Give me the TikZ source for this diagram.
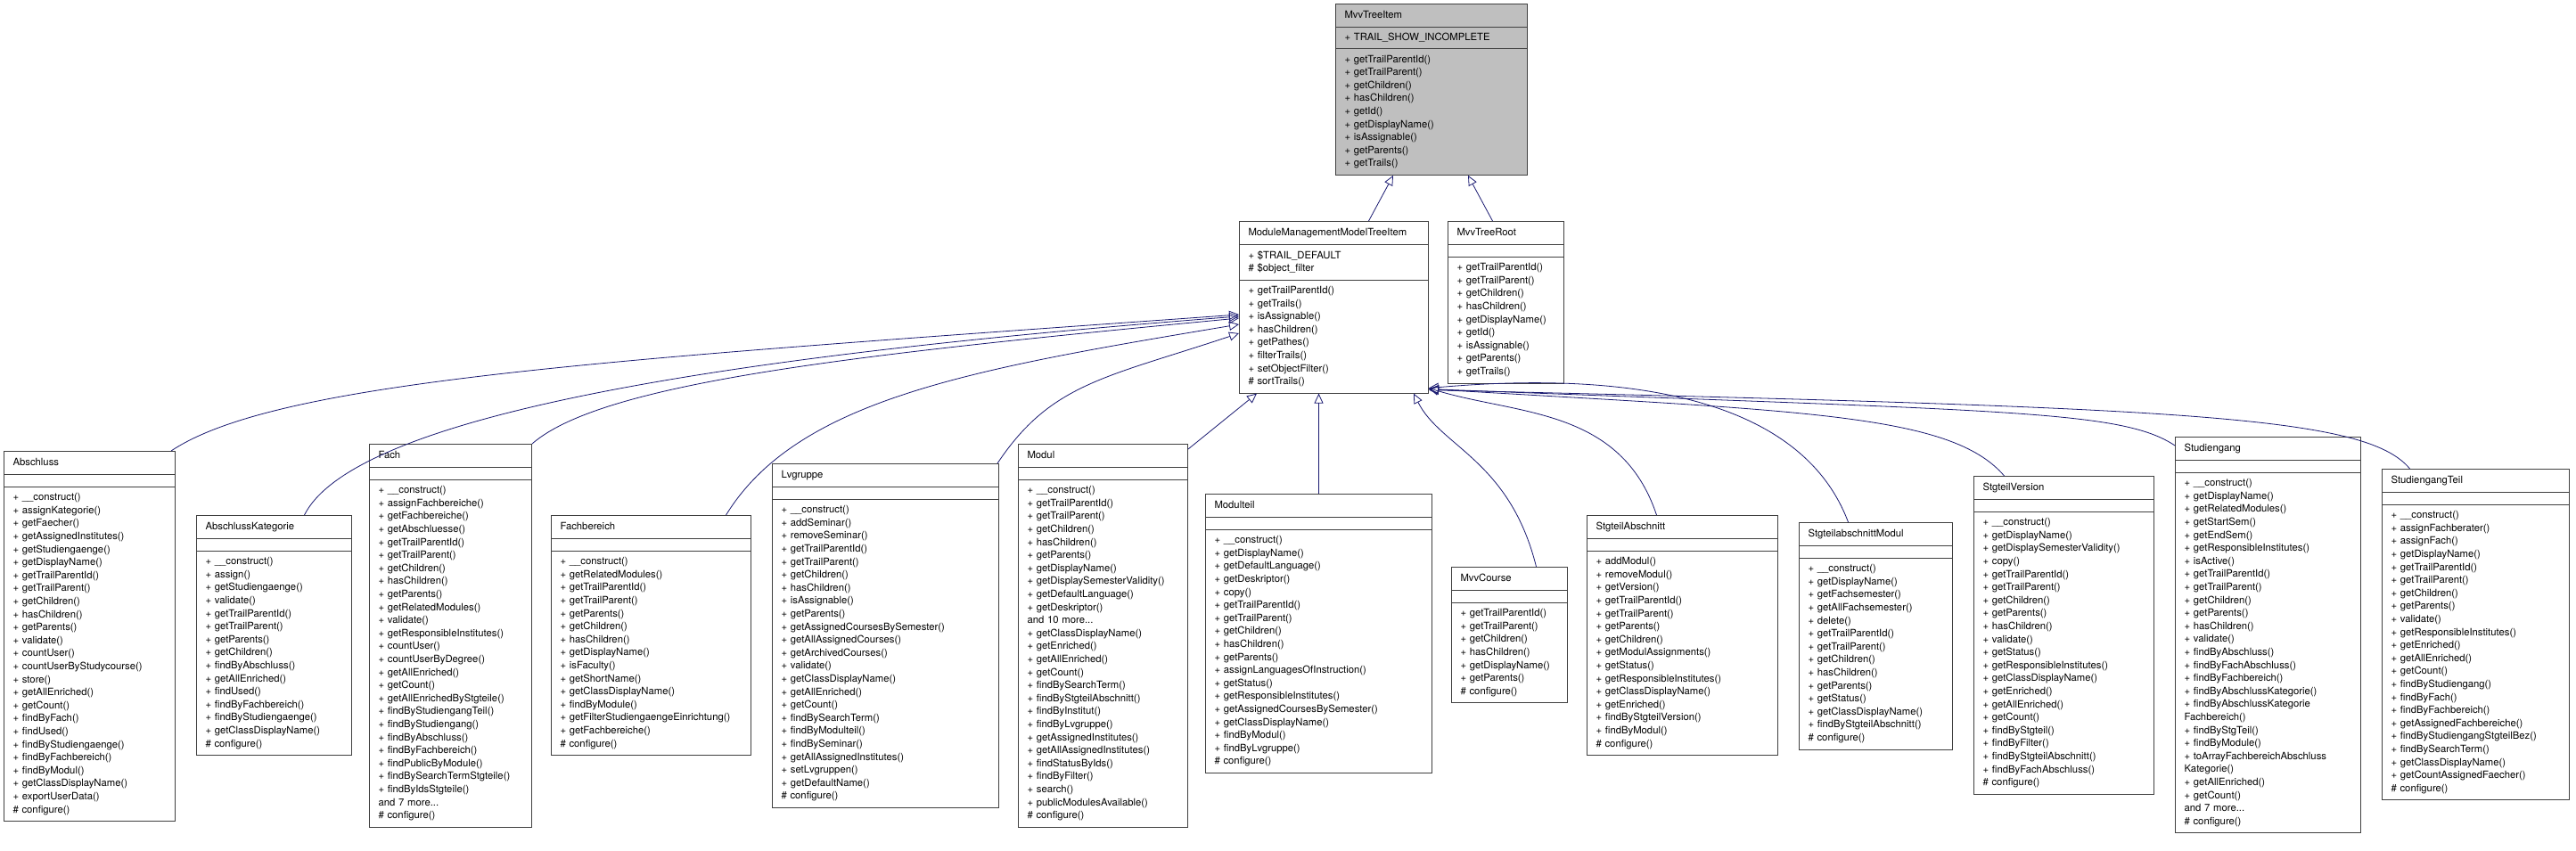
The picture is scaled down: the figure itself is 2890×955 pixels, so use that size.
\documentclass[tikz,border=0pt]{standalone}
\usepackage{fontspec}
\setmainfont{TeX Gyre Heros}
\usetikzlibrary{shapes.multipart, arrows.meta, calc, positioning}
\definecolor{edgeblue}{HTML}{191970}
\definecolor{boxgray}{HTML}{404040}
\definecolor{basegray}{HTML}{BFBFBF}
\newcommand{\hd}{\rule{0pt}{9pt}\rule[-3pt]{0pt}{3pt}}
\newcommand{\us}{\_}

\begin{document}
\begin{tikzpicture}[x=1pt, y=1pt,
	cls/.style={draw=boxgray, line width=1pt, fill=white, rectangle split, rectangle split parts=3,
		rectangle split empty part height=9pt, rectangle split empty part depth=3pt,
		text width=#1-20pt, inner xsep=10pt, inner ysep=6.5pt, anchor=north west, align=left,
		font=\fontsize{11.3}{14.6}\selectfont},
	inh/.style={{Triangle[open, length=11pt, width=10pt]}-, draw=edgeblue, line width=0.8pt}]
	\useasboundingbox (0,0) rectangle (2890,-955);
	% base classes
	\node[cls=215pt, fill=basegray] at (1498,-4) (mvvtreeitem) {\centering\hd MvvTreeItem
		\nodepart{two}+ TRAIL\us SHOW\us INCOMPLETE
		\nodepart{three}+ getTrailParentId()\\+ getTrailParent()\\+ getChildren()\\+ hasChildren()\\+ getId()\\+ getDisplayName()\\+ isAssignable()\\+ getParents()\\+ getTrails()};
	\node[cls=212pt] at (1390,-248) (mmmti) {\centering\hd ModuleManagementModelTreeItem
		\nodepart{two}+ \$TRAIL\us DEFAULT\\\# \$object\us filter
		\nodepart{three}+ getTrailParentId()\\+ getTrails()\\+ isAssignable()\\+ hasChildren()\\+ getPathes()\\+ filterTrails()\\+ setObjectFilter()\\\# sortTrails()};
	\node[cls=130pt] at (1624,-248) (mvvtreeroot) {\centering\hd MvvTreeRoot
		\nodepart{two}
		\nodepart{three}+ getTrailParentId()\\+ getTrailParent()\\+ getChildren()\\+ hasChildren()\\+ getDisplayName()\\+ getId()\\+ isAssignable()\\+ getParents()\\+ getTrails()};
	% derived classes
	\node[cls=192pt] at (4,-506) (abschluss) {\centering\hd Abschluss
		\nodepart{two}
		\nodepart{three}+ \us\us construct()\\+ assignKategorie()\\+ getFaecher()\\+ getAssignedInstitutes()\\+ getStudiengaenge()\\+ getDisplayName()\\+ getTrailParentId()\\+ getTrailParent()\\+ getChildren()\\+ hasChildren()\\+ getParents()\\+ validate()\\+ countUser()\\+ countUserByStudycourse()\\+ store()\\+ getAllEnriched()\\+ getCount()\\+ findByFach()\\+ findUsed()\\+ findByStudiengaenge()\\+ findByFachbereich()\\+ findByModul()\\+ getClassDisplayName()\\+ exportUserData()\\\# configure()};
	\node[cls=174pt] at (220,-578) (abschlusskat) {\centering\hd AbschlussKategorie
		\nodepart{two}
		\nodepart{three}+ \us\us construct()\\+ assign()\\+ getStudiengaenge()\\+ validate()\\+ getTrailParentId()\\+ getTrailParent()\\+ getParents()\\+ getChildren()\\+ findByAbschluss()\\+ getAllEnriched()\\+ findUsed()\\+ findByFachbereich()\\+ findByStudiengaenge()\\+ getClassDisplayName()\\\# configure()};
	\node[cls=182pt] at (414,-498) (fach) {\centering\hd Fach
		\nodepart{two}
		\nodepart{three}+ \us\us construct()\\+ assignFachbereiche()\\+ getFachbereiche()\\+ getAbschluesse()\\+ getTrailParentId()\\+ getTrailParent()\\+ getChildren()\\+ hasChildren()\\+ getParents()\\+ getRelatedModules()\\+ validate()\\+ getResponsibleInstitutes()\\+ countUser()\\+ countUserByDegree()\\+ getAllEnriched()\\+ getCount()\\+ getAllEnrichedByStgteile()\\+ findByStudiengangTeil()\\+ findByStudiengang()\\+ findByAbschluss()\\+ findByFachbereich()\\+ findPublicByModule()\\+ findBySearchTermStgteile()\\+ findByIdsStgteile()\\and 7 more...\\\# configure()};
	\node[cls=224pt] at (618,-578) (fachbereich) {\centering\hd Fachbereich
		\nodepart{two}
		\nodepart{three}+ \us\us construct()\\+ getRelatedModules()\\+ getTrailParentId()\\+ getTrailParent()\\+ getParents()\\+ getChildren()\\+ hasChildren()\\+ getDisplayName()\\+ isFaculty()\\+ getShortName()\\+ getClassDisplayName()\\+ findByModule()\\+ getFilterStudiengaengeEinrichtung()\\+ getFachbereiche()\\\# configure()};
	\node[cls=254pt] at (866,-520) (lvgruppe) {\centering\hd Lvgruppe
		\nodepart{two}
		\nodepart{three}+ \us\us construct()\\+ addSeminar()\\+ removeSeminar()\\+ getTrailParentId()\\+ getTrailParent()\\+ getChildren()\\+ hasChildren()\\+ isAssignable()\\+ getParents()\\+ getAssignedCoursesBySemester()\\+ getAllAssignedCourses()\\+ getArchivedCourses()\\+ validate()\\+ getClassDisplayName()\\+ getAllEnriched()\\+ getCount()\\+ findBySearchTerm()\\+ findByModulteil()\\+ findBySeminar()\\+ getAllAssignedInstitutes()\\+ setLvgruppen()\\+ getDefaultName()\\\# configure()};
	\node[cls=190pt] at (1142,-498) (modul) {\centering\hd Modul
		\nodepart{two}
		\nodepart{three}+ \us\us construct()\\+ getTrailParentId()\\+ getTrailParent()\\+ getChildren()\\+ hasChildren()\\+ getParents()\\+ getDisplayName()\\+ getDisplaySemesterValidity()\\+ getDefaultLanguage()\\+ getDeskriptor()\\and 10 more...\\+ getClassDisplayName()\\+ getEnriched()\\+ getAllEnriched()\\+ getCount()\\+ findBySearchTerm()\\+ findByStgteilAbschnitt()\\+ findByInstitut()\\+ findByLvgruppe()\\+ getAssignedInstitutes()\\+ getAllAssignedInstitutes()\\+ findStatusByIds()\\+ findByFilter()\\+ search()\\+ publicModulesAvailable()\\\# configure()};
	\node[cls=254pt] at (1352,-554) (modulteil) {\centering\hd Modulteil
		\nodepart{two}
		\nodepart{three}+ \us\us construct()\\+ getDisplayName()\\+ getDefaultLanguage()\\+ getDeskriptor()\\+ copy()\\+ getTrailParentId()\\+ getTrailParent()\\+ getChildren()\\+ hasChildren()\\+ getParents()\\+ assignLanguagesOfInstruction()\\+ getStatus()\\+ getResponsibleInstitutes()\\+ getAssignedCoursesBySemester()\\+ getClassDisplayName()\\+ findByModul()\\+ findByLvgruppe()\\\# configure()};
	\node[cls=130pt] at (1628,-636) (mvvcourse) {\centering\hd MvvCourse
		\nodepart{two}
		\nodepart{three}+ getTrailParentId()\\+ getTrailParent()\\+ getChildren()\\+ hasChildren()\\+ getDisplayName()\\+ getParents()\\\# configure()};
	\node[cls=214pt] at (1780,-578) (stgteilabschnitt) {\centering\hd StgteilAbschnitt
		\nodepart{two}
		\nodepart{three}+ addModul()\\+ removeModul()\\+ getVersion()\\+ getTrailParentId()\\+ getTrailParent()\\+ getParents()\\+ getChildren()\\+ getModulAssignments()\\+ getStatus()\\+ getResponsibleInstitutes()\\+ getClassDisplayName()\\+ getEnriched()\\+ findByStgteilVersion()\\+ findByModul()\\\# configure()};
	\node[cls=172pt] at (2018,-586) (stgteilabschnittmodul) {\centering\hd StgteilabschnittModul
		\nodepart{two}
		\nodepart{three}+ \us\us construct()\\+ getDisplayName()\\+ getFachsemester()\\+ getAllFachsemester()\\+ delete()\\+ getTrailParentId()\\+ getTrailParent()\\+ getChildren()\\+ hasChildren()\\+ getParents()\\+ getStatus()\\+ getClassDisplayName()\\+ findByStgteilAbschnitt()\\\# configure()};
	\node[cls=202pt] at (2214,-534) (stgteilversion) {\centering\hd StgteilVersion
		\nodepart{two}
		\nodepart{three}+ \us\us construct()\\+ getDisplayName()\\+ getDisplaySemesterValidity()\\+ copy()\\+ getTrailParentId()\\+ getTrailParent()\\+ getChildren()\\+ getParents()\\+ hasChildren()\\+ validate()\\+ getStatus()\\+ getResponsibleInstitutes()\\+ getClassDisplayName()\\+ getEnriched()\\+ getAllEnriched()\\+ getCount()\\+ findByStgteil()\\+ findByFilter()\\+ findByStgteilAbschnitt()\\+ findByFachAbschluss()\\\# configure()};
	\node[cls=208pt] at (2440,-490) (studiengang) {\centering\hd Studiengang
		\nodepart{two}
		\nodepart{three}+ \us\us construct()\\+ getDisplayName()\\+ getRelatedModules()\\+ getStartSem()\\+ getEndSem()\\+ getResponsibleInstitutes()\\+ isActive()\\+ getTrailParentId()\\+ getTrailParent()\\+ getChildren()\\+ getParents()\\+ hasChildren()\\+ validate()\\+ findByAbschluss()\\+ findByFachAbschluss()\\+ findByFachbereich()\\+ findByAbschlussKategorie()\\+ findByAbschlussKategorie\\Fachbereich()\\+ findByStgTeil()\\+ findByModule()\\+ toArrayFachbereichAbschluss\\Kategorie()\\+ getAllEnriched()\\+ getCount()\\and 7 more...\\\# configure()};
	\node[cls=210pt] at (2672,-526) (studiengangteil) {\centering\hd StudiengangTeil
		\nodepart{two}
		\nodepart{three}+ \us\us construct()\\+ assignFachberater()\\+ assignFach()\\+ getDisplayName()\\+ getTrailParentId()\\+ getTrailParent()\\+ getChildren()\\+ getParents()\\+ validate()\\+ getResponsibleInstitutes()\\+ getEnriched()\\+ getAllEnriched()\\+ getCount()\\+ findByStudiengang()\\+ findByFach()\\+ findByFachbereich()\\+ getAssignedFachbereiche()\\+ findByStudiengangStgteilBez()\\+ findBySearchTerm()\\+ getClassDisplayName()\\+ getCountAssignedFaecher()\\\# configure()};
	% inheritance
	\draw[inh] ([xshift=-43pt]mvvtreeitem.south) -- ([xshift=39pt]mmmti.north);
	\draw[inh] ([xshift=41pt]mvvtreeitem.south) -- ([xshift=-15pt]mvvtreeroot.north);
	\draw[inh] ([yshift=-105pt]mmmti.north west) .. controls +(-700,-50) and +(120,80) .. ([xshift=-5pt]abschluss.north east);
	\draw[inh] ([yshift=-107pt]mmmti.north west) .. controls +(-520,-40) and +(60,120) .. ([xshift=34pt]abschlusskat.north);
	\draw[inh] ([yshift=-109pt]mmmti.north west) .. controls +(-420,-40) and +(80,70) .. (fach.north east);
	\draw[inh] ([yshift=-116pt]mmmti.north west) .. controls +(-300,-50) and +(80,130) .. ([xshift=84pt]fachbereich.north);
	\draw[inh] ([yshift=-126pt]mmmti.north west) .. controls +(-150,-50) and +(60,90) .. ([xshift=-2pt]lvgruppe.north east);
	\draw[inh] ([xshift=20pt]mmmti.south west) -- ([yshift=-6pt]modul.north east);
	\draw[inh] (modulteil.north |- mmmti.south) -- (modulteil.north);
	\draw[inh] ([xshift=-17pt]mmmti.south east) .. controls +(30,-60) and +(-30,120) .. ([xshift=30pt]mvvcourse.north);
	\draw[inh] ([yshift=6pt]mmmti.south east) .. controls +(100,-30) and +(-40,120) .. ([xshift=-29pt]stgteilabschnitt.north);
	\draw[inh] ([yshift=6pt]mmmti.south east) .. controls +(170,15) and +(-60,160) .. ([xshift=-31pt]stgteilabschnittmodul.north);
	\draw[inh] ([yshift=5pt]mmmti.south east) .. controls +(420,-25) and +(-60,70) .. ([xshift=-67pt]stgteilversion.north);
	\draw[inh] ([yshift=5pt]mmmti.south east) .. controls +(650,-25) and +(-60,40) .. ([yshift=-10pt]studiengang.north west);
	\draw[inh] ([yshift=4pt]mmmti.south east) .. controls +(850,-20) and +(-50,60) .. ([xshift=-74pt]studiengangteil.north);
\end{tikzpicture}
\end{document}
